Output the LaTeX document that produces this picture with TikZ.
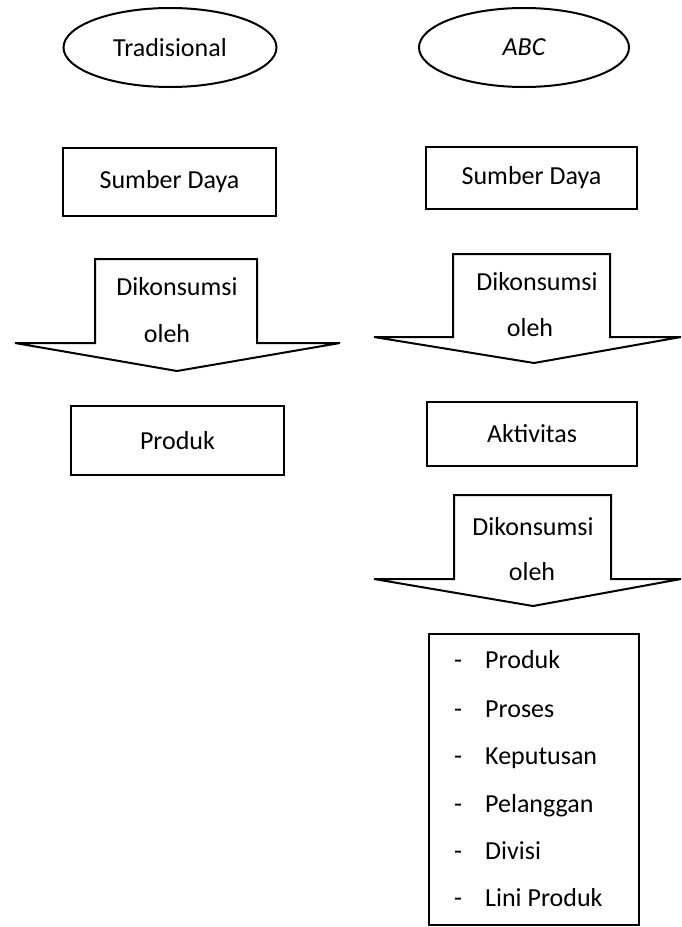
\documentclass[tikz,border=0pt]{standalone}
\usepackage{fontspec}
\setmainfont{Carlito}
\usetikzlibrary{shapes.geometric}

\begin{document}
\begin{tikzpicture}
[x=1pt,y=-1pt,%
  ovalDecorate/.style={shape=ellipse,draw,line width=2pt,inner sep=0pt},%
  boxDecorate/.style={shape=rectangle,draw,line width=2pt,inner sep=0pt},%
  arrowDecorate/.style={draw,line width=2pt,line join=miter},%
  textDecorate/.style={inner sep=0pt,text height=0.66em,text depth=0.2em}]
\fontsize{26}{31}\selectfont
\useasboundingbox (0,0) rectangle (682,927);
%% ovals on top
\node (trad) at (170,47.5) [ovalDecorate,minimum width=213pt,minimum height=79pt] {Tradisional};
\node (abc) at (524,47.5) [ovalDecorate,minimum width=210pt,minimum height=79pt] {\itshape ABC};
%% boxes
\foreach \nodename/\x/\y/\w/\h/\txt in {sdL/169.5/182/213/68/Sumber Daya, sdR/531.5/178/211/62/Sumber Daya,
  produk/177.5/440.5/213/69/Produk, aktivitas/532/434/210/64/Aktivitas}
{
  \node (\nodename) at (\x,\y) [boxDecorate,minimum width=\w pt,minimum height=\h pt] {\txt};
}
%% block arrows
\foreach \sl/\sr/\top/\sh/\wl/\wr/\tx/\ty in {95/257/259/343/15/340/177/371,
  453/610/254/337/374/681/534/363, 454/611/495/579/374/681/533/606}
{
  \draw[arrowDecorate] (\sl,\top) -- (\sr,\top) -- (\sr,\sh) -- (\wr,\sh) -- (\tx,\ty)
    -- (\wl,\sh) -- (\sl,\sh) -- cycle;
}
\foreach \nodename/\x/\y/\xb/\yb in {konsA/177/290/167/337, konsB/537/285/530/331, konsC/533/530/532/575}
{
  \node (\nodename) at (\x,\y) [textDecorate] {Dikonsumsi};
  \node (\nodename oleh) at (\xb,\yb) [textDecorate] {oleh};
}
%% list of cost objects
\node (daftar) at (534,779.5) [boxDecorate,minimum width=210pt,minimum height=291pt] {};
\foreach \txt/\y [count=\i] in {Produk/663, Proses/712, Keputusan/759, Pelanggan/807, Divisi/854, Lini Produk/901}
{
  \node (dash\i) at (454,\y) [textDecorate,anchor=west] {-};
  \node (item\i) at (485,\y) [textDecorate,anchor=west] {\txt};
}
\end{tikzpicture}
\end{document}
